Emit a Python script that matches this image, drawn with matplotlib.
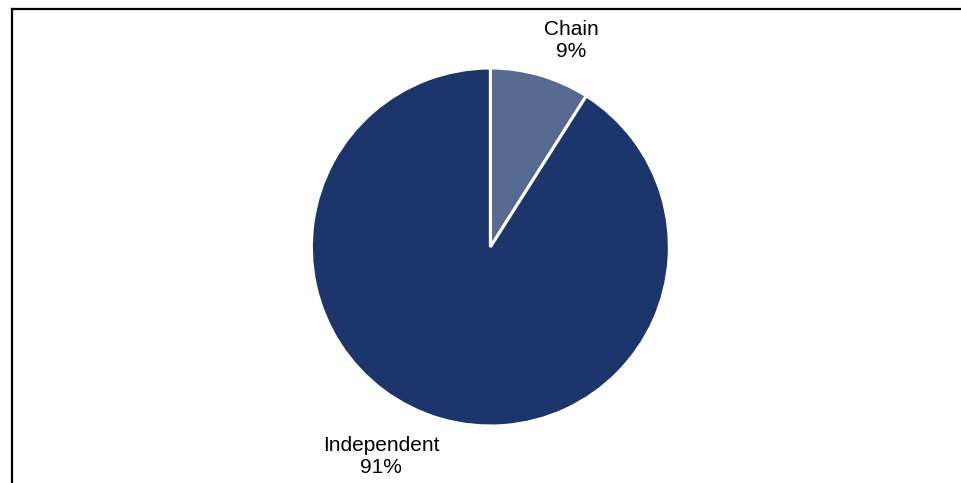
import matplotlib
matplotlib.use("Agg")
import matplotlib.pyplot as plt
from matplotlib.lines import Line2D

plt.rcParams['font.family'] = ['Liberation Sans', 'DejaVu Sans']

# data
labels = ['Chain', 'Independent']
shares = [9, 91]
colors = ['#576A92', '#1C356A']
label_pos = [(0.453, 1.155), (-0.609, -1.172)]

fig = plt.figure(figsize=(9.62, 4.83), dpi=100)
ax = fig.add_axes([0.3232, 0.118, 0.3731, 0.7412])

wedges, texts = ax.pie(shares, colors=colors, startangle=90, counterclock=False,
                       labels=[f'{l}\n{v}%' for l, v in zip(labels, shares)],
                       wedgeprops=dict(edgecolor='white', linewidth=2.2),
                       textprops=dict(fontsize=15, ha='center', va='center', linespacing=1.2))
for t, p in zip(texts, label_pos):
    t.set_position(p)
    t.set_ha('center')
ax.set_xlim(-1, 1)
ax.set_ylim(-1, 1)
ax.set_aspect('equal')

# frame (left and top edges only visible)
fig.add_artist(Line2D([0.012, 0.012], [0.0, 0.9824], transform=fig.transFigure, color='black', lw=1.6))
fig.add_artist(Line2D([0.012, 1.0], [0.9824, 0.9824], transform=fig.transFigure, color='black', lw=1.6))

fig.savefig('out.png', dpi=100)
